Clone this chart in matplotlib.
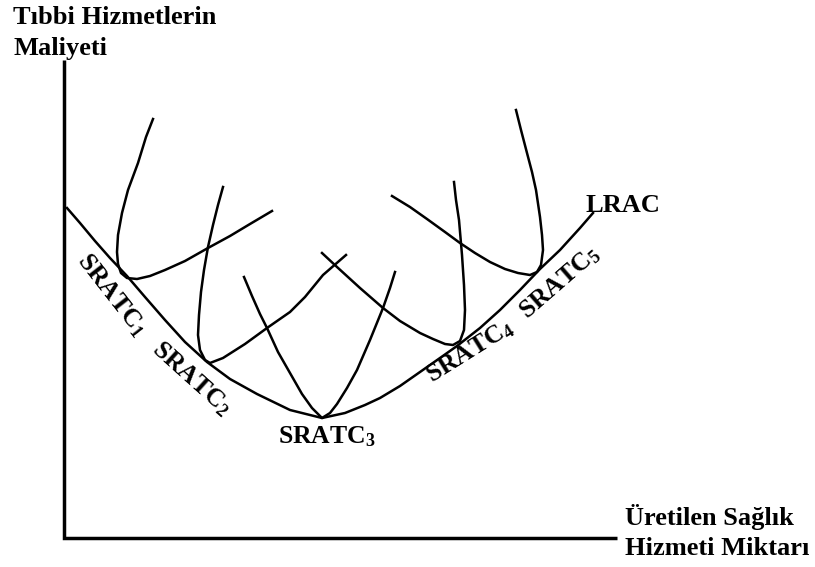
import matplotlib
matplotlib.use("Agg")
import matplotlib.pyplot as plt

plt.rcParams['font.family'] = ['Liberation Serif', 'DejaVu Serif']
plt.rcParams['font.weight'] = 'bold'
plt.rcParams['mathtext.fontset'] = 'custom'
plt.rcParams['mathtext.rm'] = 'Liberation Serif:bold'
plt.rcParams['mathtext.it'] = 'Liberation Serif:bold'
plt.rcParams['mathtext.bf'] = 'Liberation Serif:bold'

# curves, in pixel units (x right, y down)
lracX = [67, 80, 95, 110, 127, 145, 165, 185, 207, 230, 257, 290, 322, 345, 365, 380,
         400, 420, 440, 457, 480, 500, 520, 540, 560, 580, 593]
lracY = [208, 223, 241, 258, 276, 297, 320, 342, 362, 379, 394, 410, 418, 413, 405, 398,
         386, 372, 358, 346, 328, 310, 290, 269, 250, 228, 213]

sratc1X = [153, 146, 138, 128, 122, 118, 117, 118, 121, 127, 137, 150, 165, 185, 208, 230, 250, 272]
sratc1Y = [119, 137, 163, 190, 213, 235, 252, 264, 273, 278, 279, 276, 270, 261, 248, 236, 224, 211]

sratc2X = [223, 218, 213, 208, 204, 201, 199, 198, 200, 205, 210, 223, 245, 267, 290, 305, 323, 346]
sratc2Y = [187, 205, 225, 247, 270, 292, 315, 335, 350, 360, 363, 358, 344, 328, 312, 297, 275, 255]

sratc3X = [244, 252, 260, 267, 278, 290, 302, 312, 322, 330, 337, 347, 357, 370, 383, 390, 395]
sratc3Y = [277, 296, 314, 328, 352, 373, 394, 408, 418, 413, 404, 388, 370, 340, 308, 288, 272]

sratc4X = [322, 337, 360, 383, 400, 420, 433, 445, 453, 460, 464, 465, 464, 462, 459, 456, 454]
sratc4Y = [253, 267, 288, 308, 321, 333, 339, 344, 345, 341, 330, 310, 285, 255, 220, 200, 182]

sratc5X = [392, 410, 427, 445, 460, 475, 490, 505, 518, 530, 537, 541, 543, 542, 540, 536, 532, 527, 521, 516]
sratc5Y = [196, 207, 219, 232, 243, 253, 262, 269, 273, 275, 272, 265, 250, 235, 217, 190, 172, 153, 130, 110]

# (text, x, y, rotation)
curveLabels = [
    ('SRATC$_1$', 112, 295, -52),
    ('SRATC$_2$', 192, 379, -42),
    ('SRATC$_3$', 327, 437, 0),
    ('SRATC$_4$', 470, 352, 32),
    ('SRATC$_5$', 560, 283, 41),
]

fig = plt.figure(figsize=(8.15, 5.67), dpi=100)
ax = fig.add_axes([0, 0, 1, 1])
ax.set_xlim(0, 815)
ax.set_ylim(567, 0)
ax.axis('off')

# axes of the diagram
ax.plot([63.5, 63.5, 617], [60, 538, 538], color='black', linewidth=2.5,
        solid_joinstyle='miter', solid_capstyle='butt')

for xs, ys in [(lracX, lracY), (sratc1X, sratc1Y), (sratc2X, sratc2Y),
               (sratc3X, sratc3Y), (sratc4X, sratc4Y), (sratc5X, sratc5Y)]:
    ax.plot(xs, ys, color='black', linewidth=1.8, solid_joinstyle='round')

for text, x, y, rot in curveLabels:
    ax.text(x, y, text, fontsize=18.5, rotation=rot, rotation_mode='anchor',
            ha='center', va='center')

ax.text(623, 205, 'LRAC', fontsize=19, ha='center', va='center')

ax.text(13, 24, 'Tıbbi Hizmetlerin', fontsize=19, ha='left', va='baseline')
ax.text(13, 55, 'Maliyeti', fontsize=19, ha='left', va='baseline')

ax.text(625, 525, 'Üretilen Sağlık', fontsize=19, ha='left', va='baseline')
ax.text(625, 555, 'Hizmeti Miktarı', fontsize=19, ha='left', va='baseline')

fig.savefig('out.png', dpi=100)
